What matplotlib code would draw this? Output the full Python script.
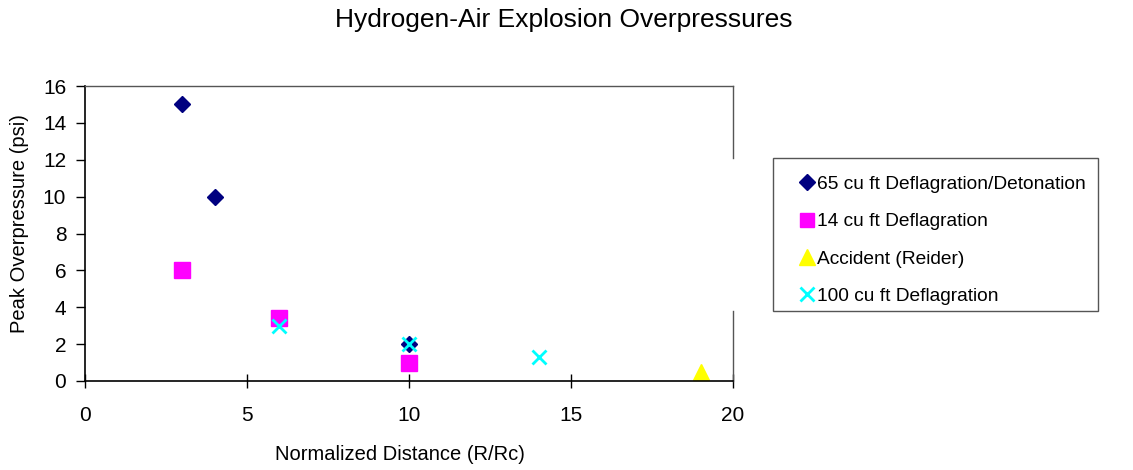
import matplotlib
matplotlib.use("Agg")
import matplotlib.pyplot as plt
from matplotlib.patches import Rectangle

plt.rcParams['font.family'] = ['Liberation Sans', 'DejaVu Sans']

# Data
s65_x = [3, 4, 10]
s65_y = [15, 10, 2]
s14_x = [3, 6, 10]
s14_y = [6, 3.4, 1]
acc_x = [19]
acc_y = [0.5]
s100_x = [6, 10, 14]
s100_y = [3, 2, 1.3]

labels = ["65 cu ft Deflagration/Detonation", "14 cu ft Deflagration",
          "Accident (Reider)", "100 cu ft Deflagration"]
x_ticks = [0, 5, 10, 15, 20]
y_ticks = [0, 2, 4, 6, 8, 10, 12, 14, 16]

W, H = 1133, 470
fig = plt.figure(figsize=(W/100, H/100), dpi=100)
ax = fig.add_axes([85/W, 89/H, (733-85)/W, (381-86)/H])

h1, = ax.plot(s65_x, s65_y, linestyle='none', marker='D', markersize=8.5, color='#000080', label=labels[0], zorder=3)
h2, = ax.plot(s14_x, s14_y, linestyle='none', marker='s', markersize=11, color='#FF00FF', label=labels[1], zorder=2)
h3, = ax.plot(acc_x, acc_y, linestyle='none', marker='^', markersize=12, color='#FFFF00', label=labels[2], zorder=2)
h4, = ax.plot(s100_x, s100_y, linestyle='none', marker='x', markersize=10, markeredgewidth=2, color='#00FFFF', label=labels[3], zorder=4)

ax.set_xlim(0, 20)
ax.set_ylim(0, 16)
ax.set_xticks(x_ticks)
ax.set_yticks(y_ticks)
ax.tick_params(axis='x', direction='inout', length=10, width=1, labelsize=15, pad=13, color='black')
ax.tick_params(axis='y', direction='out', length=6.5, width=1, labelsize=15, pad=7, color='black')

for side in ['left', 'bottom']:
    ax.spines[side].set_color('black')
    ax.spines[side].set_linewidth(1.2)
ax.spines['top'].set_color('#555555')
ax.spines['top'].set_linewidth(1)
ax.spines['right'].set_visible(False)
gap_top = (381-158)/295
gap_bot = (381-311)/295
ax.plot([1, 1], [1, gap_top], transform=ax.transAxes, color='#555555', lw=1, clip_on=False)
ax.plot([1, 1], [gap_bot, 0], transform=ax.transAxes, color='#555555', lw=1, clip_on=False)

ax.set_xlabel("Normalized Distance (R/Rc)", fontsize=14.5)
ax.set_ylabel("Peak Overpressure (psi)", fontsize=14.5)
ax.xaxis.set_label_coords((400-85)/648, -(455-381)/295)
ax.yaxis.set_label_coords(-(85-20)/648, (381-224)/295)
ax.xaxis.label.set_va('center')
ax.yaxis.label.set_va('center')
fig.text(564/W, 1 - 20/H, "Hydrogen-Air Explosion Overpressures", fontsize=19, ha='center', va='center')

# legend box
fig.patches.append(Rectangle((773/W, 1 - 311/H), (1098-773)/W, (311-158)/H,
                             transform=fig.transFigure, facecolor='white',
                             edgecolor='#555555', linewidth=1, zorder=0))
leg = fig.legend(handles=[h1, h2, h3, h4], loc='upper left',
                 bbox_to_anchor=(773/W, 1 - 163/H), bbox_transform=fig.transFigure,
                 borderaxespad=0, fontsize=13.8, frameon=False,
                 handlelength=2.2, handletextpad=-0.57, labelspacing=1.04,
                 borderpad=0.65, markerscale=0.95)

fig.savefig("out.png", dpi=100)
